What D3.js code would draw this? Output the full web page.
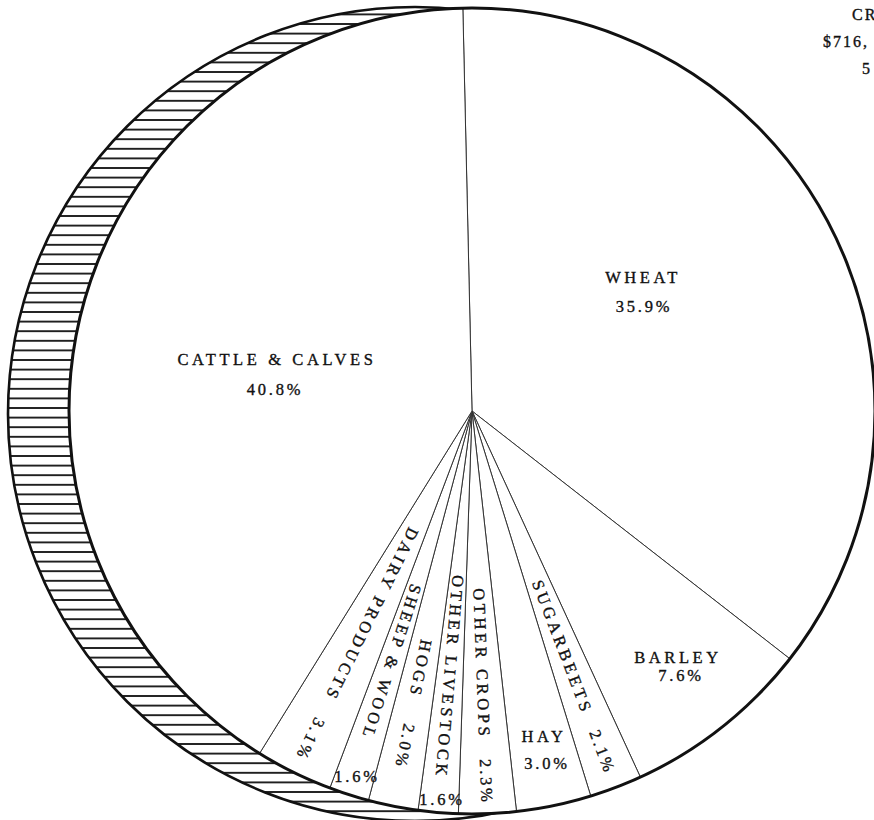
<!DOCTYPE html>
<html>
<head>
<meta charset="utf-8">
<script src="https://cdn.jsdelivr.net/npm/d3@7"></script>
<style>
  body { margin: 0; background: #fff; }
  svg { display: block; }
  text { font-family: "Liberation Serif", "DejaVu Serif", serif; fill: #111; stroke: #111; stroke-width: 0.35; }
</style>
</head>
<body>
<div id="chart"></div>
<script>
// values, clockwise from the top
var categories = ['WHEAT', 'BARLEY', 'SUGARBEETS', 'HAY', 'OTHER CROPS',
  'OTHER LIVESTOCK', 'HOGS', 'SHEEP & WOOL', 'DAIRY PRODUCTS', 'CATTLE & CALVES'];
var shares = [35.9, 7.6, 2.1, 3.0, 2.3, 1.6, 2.0, 1.6, 3.1, 40.8];
var shareLabels = ['35.9%', '7.6%', '2.1%', '3.0%', '2.3%', '1.6%', '2.0%', '1.6%', '3.1%', '40.8%'];
// title is cut off at the right edge of the picture
var titleLines = ['CR', '$716,', '5'];

var width = 874, height = 820;
var cx = 472, cy = 411, radius = 403;
var startDeg = -1.3;

// label layout: 'h' = horizontal at offset from centre, 'r' = along slice radius
var labelLayout = {
  'WHEAT':           { name: ['h', 171, -128], pct: ['h', 172, -99] },
  'BARLEY':          { name: ['h', 206, 252],  pct: ['h', 209, 270] },
  'SUGARBEETS':      { name: ['r', 253],       pct: ['r', 365] },
  'HAY':             { name: ['h', 72, 331],   pct: ['h', 75, 358] },
  'OTHER CROPS':     { name: ['r', 253],       pct: ['r', 371] },
  'OTHER LIVESTOCK': { name: ['r', 267],       pct: ['h', -30, 394] },
  'HOGS':            { name: ['r', 263],       pct: ['r', 342] },
  'SHEEP & WOOL':    { name: ['r', 264],       pct: ['h', -115, 371] },
  'DAIRY PRODUCTS':  { name: ['r', 227],       pct: ['r', 366] },
  'CATTLE & CALVES': { name: ['h', -195, -46], pct: ['h', -197, -16] }
};

var dataset = categories.map(function(c, i) {
  return { label: c, share: shares[i], text: shareLabels[i] };
});

var svg = d3.select('#chart')
  .append('svg')
  .attr('width', width)
  .attr('height', height);

var defs = svg.append('defs');
defs.append('pattern')
  .attr('id', 'hatch')
  .attr('patternUnits', 'userSpaceOnUse')
  .attr('width', 20)
  .attr('height', 9.6)
  .append('line')
  .attr('x1', 0).attr('x2', 20)
  .attr('y1', 4.8).attr('y2', 4.8)
  .attr('stroke', '#111')
  .attr('stroke-width', 1.8);

// the edge of the disc, seen on the left
svg.append('circle')
  .attr('cx', 415)
  .attr('cy', 414)
  .attr('r', 407)
  .attr('fill', 'url(#hatch)')
  .attr('stroke', '#111')
  .attr('stroke-width', 2.6);

var g = svg.append('g')
  .attr('transform', 'translate(' + cx + ',' + cy + ')');

var a0 = startDeg * Math.PI / 180;
var pie = d3.pie()
  .value(function(d) { return d.share; })
  .sort(null)
  .startAngle(a0)
  .endAngle(a0 + 2 * Math.PI);

var arc = d3.arc()
  .innerRadius(0)
  .outerRadius(radius);

var arcs = pie(dataset);

g.selectAll('path.slice')
  .data(arcs)
  .enter()
  .append('path')
  .attr('class', 'slice')
  .attr('d', arc)
  .attr('fill', '#fff')
  .attr('stroke', '#333')
  .attr('stroke-width', 1);

g.append('circle')
  .attr('r', radius)
  .attr('fill', 'none')
  .attr('stroke', '#111')
  .attr('stroke-width', 3);

function placeText(sel, spec, d) {
  var mid = (d.startAngle + d.endAngle) / 2;
  if (spec[0] === 'h') {
    sel.attr('x', spec[1]).attr('y', spec[2])
      .attr('text-anchor', 'middle');
  } else {
    var x = Math.sin(mid) * spec[1];
    var y = -Math.cos(mid) * spec[1];
    var rot = mid * 180 / Math.PI - 90;
    sel.attr('text-anchor', 'middle')
      .attr('dominant-baseline', 'central')
      .attr('transform', 'translate(' + x + ',' + y + ') rotate(' + rot + ')');
  }
}

arcs.forEach(function(d) {
  var lay = labelLayout[d.data.label];
  g.append('text')
    .attr('font-size', 16.5)
    .attr('letter-spacing', 3.6)
    .text(d.data.label)
    .call(placeText, lay.name, d);
  g.append('text')
    .attr('font-size', 16.5)
    .attr('letter-spacing', 2.8)
    .text(d.data.text)
    .call(placeText, lay.pct, d);
});

svg.selectAll('text.title')
  .data(titleLines)
  .enter()
  .append('text')
  .attr('class', 'title')
  .attr('x', function(d, i) { return [852, 823, 862][i]; })
  .attr('y', function(d, i) { return 20 + i * 27; })
  .attr('font-size', 16)
  .attr('letter-spacing', 2)
  .text(function(d) { return d; });
</script>
</body>
</html>
